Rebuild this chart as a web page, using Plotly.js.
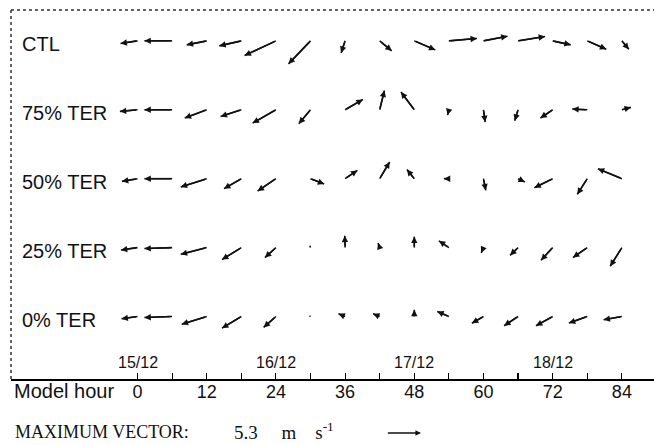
<!DOCTYPE html>
<html><head><meta charset="utf-8">
<script src="https://cdn.plot.ly/plotly-3.0.1.min.js"></script>
<style>html,body{margin:0;padding:0;background:#fff;} #chart{width:654px;height:445px;}</style>
</head><body><div id="chart"></div>
<script>
// ---- data ----
const hours = [0, 6, 12, 18, 24, 30, 36, 42, 48, 54, 60, 66, 72, 78, 84];
const hourTickText = ['0', '', '12', '', '24', '', '36', '', '48', '', '60', '', '72', '', '84'];
const dateHours = [0, 24, 48, 72];
const dateLabels = ['15/12', '16/12', '17/12', '18/12'];
const runNames = ['CTL', '75% TER', '50% TER', '25% TER', '0% TER'];
const runRows = [4, 3, 2, 1, 0];
const maxVector = 5.3; // m s-1

// u (east) and v (north) components, m s-1
const uCTL = [-2.6, -4.24, -3.06, -3.37, -4.8, -3.37, -0.61, 1.84, 3.22, 4.29, 3.68, 4.13, 2.76, 2.91, 1.07];
const vCTL = [-0.4, 0.0, -0.61, -0.77, -2.25, -3.52, -1.84, -1.53, -1.38, 0.37, 0.72, 0.67, -0.61, -1.27, -1.3];
const uT75 = [-2.7, -4.24, -3.37, -3.17, -3.57, -1.79, 2.71, 0.72, -2.04, -0.2, 0.26, -0.51, -1.88, -2.3, 1.38];
const vT75 = [-0.25, 0.0, -1.27, -1.03, -2.04, -2.14, 1.58, 2.96, 2.71, -0.81, -1.88, -1.68, -1.27, 0.11, 0.37];
const uT50 = [-2.39, -4.24, -3.98, -2.65, -2.8, 2.1, 1.88, 1.53, -1.12, -0.77, 0.35, 1.03, -2.8, -1.53, -3.68];
const vT50 = [-0.41, 0.0, -1.27, -1.53, -1.9, -0.81, 1.27, 2.56, 1.42, 0.0, -1.79, -0.52, -1.38, -2.4, 1.53];
const uT25 = [-2.54, -4.24, -3.98, -2.96, -1.68, -0.1, -0.05, -0.25, 0.0, -1.53, -0.35, -1.23, -1.79, -2.2, -1.79];
const vT25 = [-0.37, -0.15, -1.03, -1.84, -1.53, 0.3, 1.8, 0.7, 1.68, 1.03, -0.8, -1.18, -1.94, -1.53, -2.86];
const uT00 = [-2.45, -4.24, -3.83, -2.96, -1.88, -0.15, -1.01, -1.01, 0.0, -1.78, -1.78, -2.14, -2.56, -2.82, -2.8];
const vT00 = [-0.35, -0.15, -1.18, -1.79, -1.68, 0.08, 0.41, 0.41, 1.03, 0.77, -1.03, -1.42, -1.42, -1.01, -0.51];

const runU = [uCTL, uT75, uT50, uT25, uT00];
const runV = [vCTL, vT75, vT50, vT25, vT00];

// ---- layout geometry ----
const W = 654, H = 445;
const M = {l: 11, r: 0, t: 10, b: 66};
const plotW = W - M.l - M.r, plotH = H - M.t - M.b;
const xRange = [-21.94, 89.57];
const yRange = [-0.907, 4.448];
const pxPerHour = plotW / (xRange[1] - xRange[0]);
const pxPerRow = plotH / (yRange[1] - yRange[0]);
const pxPerMS = 6 * pxPerHour / maxVector; // max vector = one 6-h spacing
const kx = pxPerMS / pxPerHour, ky = pxPerMS / pxPerRow;
const pX = px => (px - M.l) / plotW;         // pixel -> paper x
const pY = py => (H - M.b - py) / plotH;     // pixel -> paper y

const SANS = 'Liberation Sans, Arial, sans-serif';
const SERIF = 'Liberation Serif, Times New Roman, serif';

// arrow shafts as line segments through the axes
const shaftX = [], shaftY = [];
const ann = [];
const headStyle = {text: '', showarrow: true, arrowhead: 2, arrowsize: 0.85, arrowwidth: 1.5,
  arrowcolor: '#111', standoff: 0, startstandoff: 0};

runNames.forEach((name, r) => {
  const row = runRows[r];
  hours.forEach((h, i) => {
    const hx = h + runU[r][i] * kx, hy = row + runV[r][i] * ky;
    shaftX.push(h, hx, null); shaftY.push(row, hy, null);
    ann.push(Object.assign({}, headStyle, {
      xref: 'x', yref: 'y', axref: 'x', ayref: 'y', ax: h, ay: row, x: hx, y: hy
    }));
  });
  ann.push({xref: 'paper', yref: 'y', x: pX(20), y: row, yshift: -3, xanchor: 'left', yanchor: 'middle',
    text: name, showarrow: false, font: {family: SANS, size: 20, color: '#111'}});
});

dateHours.forEach((h, i) => {
  ann.push({xref: 'x', yref: 'paper', x: h, y: pY(362), xanchor: 'center', yanchor: 'middle',
    text: dateLabels[i], showarrow: false, font: {family: SANS, size: 16, color: '#111'}});
});

ann.push({xref: 'paper', yref: 'paper', x: pX(12), y: pY(391), xanchor: 'left', yanchor: 'middle',
  text: 'Model hour', showarrow: false, font: {family: SANS, size: 20, color: '#111'}});

ann.push({xref: 'paper', yref: 'paper', x: pX(13), y: pY(432), xanchor: 'left', yanchor: 'middle',
  text: 'MAXIMUM VECTOR:', showarrow: false, font: {family: SERIF, size: 18, color: '#111'}});
ann.push({xref: 'paper', yref: 'paper', x: pX(232), y: pY(431), xanchor: 'left', yanchor: 'middle',
  text: maxVector + '&nbsp;&nbsp;&nbsp;&nbsp;&nbsp;m&nbsp;&nbsp;&nbsp;&nbsp;s<sup>-1</sup>', showarrow: false,
  font: {family: SERIF, size: 19, color: '#111'}});
// reference arrow for the maximum vector
const refHead = 49.16;
ann.push(Object.assign({}, headStyle, {
  xref: 'x', yref: 'paper', axref: 'x', ayref: 'pixel',
  x: refHead, y: pY(433), ax: refHead - maxVector * kx, ay: 0, arrowwidth: 1.3
}));

const traces = [{
  type: 'scatter', mode: 'lines', x: shaftX, y: shaftY, connectgaps: false,
  line: {color: '#111', width: 1.6}, hoverinfo: 'skip', cliponaxis: false
}];

const layout = {
  width: W, height: H, margin: M,
  paper_bgcolor: '#fff', plot_bgcolor: '#fff',
  showlegend: false,
  xaxis: {range: xRange, showgrid: false, zeroline: false, showline: true, linecolor: '#000', linewidth: 2,
    tickmode: 'array', tickvals: hours, ticktext: hourTickText, ticks: 'inside', ticklen: 6, tickwidth: 1.2,
    tickcolor: '#000', ticklabelstandoff: -5, tickfont: {family: SANS, size: 18, color: '#111'}, fixedrange: true},
  yaxis: {range: yRange, showgrid: false, zeroline: false, showline: false, showticklabels: false, ticks: '', fixedrange: true},
  shapes: [
    {type: 'line', xref: 'paper', yref: 'paper', x0: 0, x1: 0, y0: 0, y1: 1, line: {color: '#333', width: 1.5, dash: 'dot'}},
    {type: 'line', xref: 'paper', yref: 'paper', x0: 0, x1: 1, y0: 1, y1: 1, line: {color: '#333', width: 1.5, dash: 'dot'}}
  ],
  annotations: ann
};

Plotly.newPlot('chart', traces, layout, {staticPlot: true, displayModeBar: false});
</script>
</body></html>
